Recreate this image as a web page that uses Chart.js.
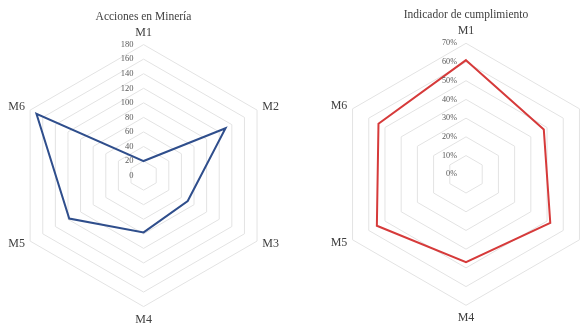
<!DOCTYPE html>
<html>
<head>
<meta charset="utf-8">
<script src="https://cdn.jsdelivr.net/npm/chart.js@4/dist/chart.umd.min.js"></script>
<style>
  html, body { margin: 0; padding: 0; background: #ffffff; overflow: hidden; width: 584px; height: 324px; }
  .panel { position: absolute; top: 0; }
</style>
</head>
<body>
<canvas id="mineria" class="panel" style="left:0px"></canvas>
<canvas id="cumplimiento" class="panel" style="left:290px"></canvas>
<script>
// Categories shared by both radars
const categories = ['M1', 'M2', 'M3', 'M4', 'M5', 'M6'];

// Number of actions per category
const accionesMineria = [20, 130, 70, 78, 118, 170];

// Compliance indicator per category, in percent
const cumplimiento = [61, 48, 52, 47, 55, 54];

// Radial axis ranges
const accionesAxis = { min: 0, max: 180, step: 20 };
const cumplimientoAxis = { min: 0, max: 70, step: 10 };

const SERIF = "'Liberation Serif', 'Times New Roman', serif";
const GRID = '#e3e3e3';
const TEXT = '#404040';
const TICK_TEXT = '#595959';

// Draws category labels and right-aligned tick labels with the scale's own geometry
const radarLabels = {
  id: 'radarLabels',
  afterDatasetsDraw(chart, args, opts) {
    const scale = chart.scales.r;
    const ctx = chart.ctx;
    ctx.save();
    // tick labels, left of the first spoke
    ctx.font = opts.tickSize + 'px ' + SERIF;
    ctx.fillStyle = TICK_TEXT;
    ctx.textAlign = 'right';
    ctx.textBaseline = 'middle';
    scale.ticks.forEach(t => {
      const d = scale.getDistanceFromCenterForValue(t.value);
      ctx.fillText(t.label, scale.xCenter - opts.tickGap, scale.yCenter - d);
    });
    // category labels
    ctx.font = '12px ' + SERIF;
    ctx.fillStyle = TEXT;
    const n = chart.data.labels.length;
    for (let i = 0; i < n; i++) {
      const angle = scale.getIndexAngle(i);
      const c = Math.cos(angle), s = Math.sin(angle);
      let extra;
      if (Math.abs(s) < 0.01) extra = c > 0 ? 12 : 13;
      else extra = 6;
      const p = scale.getPointPosition(i, scale.drawingArea + extra);
      ctx.textAlign = Math.abs(s) < 0.01 ? 'center' : (s > 0 ? 'left' : 'right');
      ctx.fillText(chart.data.labels[i], p.x, p.y);
    }
    ctx.restore();
  }
};

function radar(id, width, title, titleTop, values, color, axis, geom, tickFmt, tickSize, tickGap) {
  const canvas = document.getElementById(id);
  canvas.width = width;
  canvas.height = 324;
  canvas.style.width = width + 'px';
  canvas.style.height = '324px';
  return new Chart(canvas, {
    type: 'radar',
    data: {
      labels: categories,
      datasets: [{
        data: values,
        borderColor: color,
        borderWidth: 2,
        fill: false,
        tension: 0,
        pointRadius: 0,
        pointHoverRadius: 0
      }]
    },
    plugins: [radarLabels],
    options: {
      responsive: false,
      animation: false,
      devicePixelRatio: 1,
      events: [],
      plugins: {
        legend: { display: false },
        tooltip: { enabled: false },
        title: {
          display: true,
          text: title,
          color: TEXT,
          font: { family: SERIF, size: 11.5, weight: 'normal' },
          padding: { top: titleTop, bottom: 4 }
        },
        radarLabels: { tickSize: tickSize, tickGap: tickGap }
      },
      scales: {
        r: {
          min: axis.min,
          max: axis.max,
          ticks: { stepSize: axis.step, display: false, callback: tickFmt },
          grid: { color: GRID, lineWidth: 1 },
          angleLines: { display: false },
          pointLabels: { display: false },
          afterFit(scale) {
            scale.xCenter = geom.cx;
            scale.yCenter = geom.cy;
            scale.drawingArea = geom.r;
          }
        }
      }
    }
  });
}

radar('mineria', 287, 'Acciones en Minería', 10, accionesMineria, '#2f4e8c',
      accionesAxis, { cx: 143.6, cy: 175.6, r: 131 }, v => String(v), 8.5, 10);

radar('cumplimiento', 352, 'Indicador de cumplimiento', 8.5, cumplimiento, '#d63a3a',
      cumplimientoAxis, { cx: 176, cy: 174.3, r: 131 }, v => v + '%', 8.2, 9);
</script>
</body>
</html>
